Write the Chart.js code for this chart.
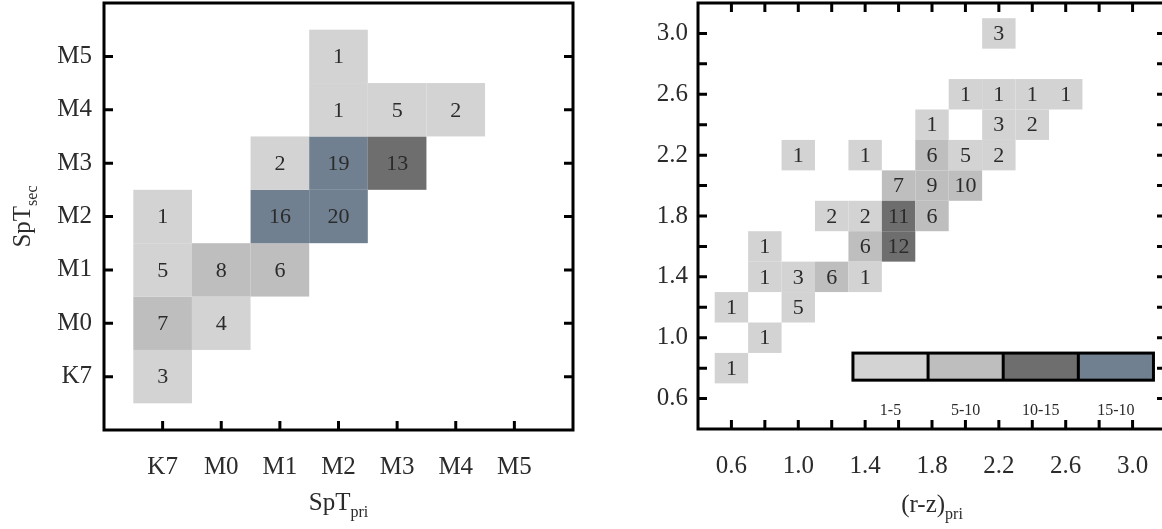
<!DOCTYPE html>
<html>
<head>
<meta charset="utf-8">
<script src="https://cdn.jsdelivr.net/npm/chart.js@4.4.0/dist/chart.umd.min.js"></script>
<style>
    html, body { margin: 0; padding: 0; background: #fff; overflow: hidden; width: 1162px; height: 529px; }
    #left { position: absolute; left: 0; top: 0; }
    #right { position: absolute; left: 580px; top: 0; }
</style>
</head>
<body>
<div id="left"><canvas id="sptChart" width="580" height="529"></canvas></div>
<div id="right"><canvas id="colorChart" width="600" height="529"></canvas></div>
<script>
// spectral types, left panel
const sptLabels = ['K7', 'M0', 'M1', 'M2', 'M3', 'M4', 'M5']
const sptPri = ['K7', 'K7', 'K7', 'K7', 'M0', 'M0', 'M1', 'M1', 'M1', 'M2', 'M2', 'M2', 'M2', 'M3', 'M3', 'M4']
const sptSec = ['K7', 'M0', 'M1', 'M2', 'M0', 'M1', 'M1', 'M2', 'M3', 'M2', 'M3', 'M4', 'M5', 'M3', 'M4', 'M4']
const sptCounts = [3, 7, 5, 1, 4, 8, 6, 16, 2, 20, 19, 1, 1, 13, 5, 2]

// r-z colours, right panel
const rzTickLabels = ['0.6', '1.0', '1.4', '1.8', '2.2', '2.6', '3.0']
const rzPri = [2.2, 2.0, 2.2, 2.4, 2.6, 1.8, 2.2, 2.4, 1.0, 1.4, 1.8, 2.0, 2.2, 1.6, 1.8, 2.0,
               1.2, 1.4, 1.6, 1.8, 0.8, 1.4, 1.6, 0.8, 1.0, 1.2, 1.4, 0.6, 1.0, 0.8, 0.6]
const rzSec = [3.0, 2.6, 2.6, 2.6, 2.6, 2.4, 2.4, 2.4, 2.2, 2.2, 2.2, 2.2, 2.2, 2.0, 2.0, 2.0,
               1.8, 1.8, 1.8, 1.8, 1.6, 1.6, 1.6, 1.4, 1.4, 1.4, 1.4, 1.2, 1.2, 1.0, 0.8]
const rzCounts = [3, 1, 1, 1, 1, 1, 3, 2, 1, 1, 6, 5, 2, 7, 9, 10,
                  2, 2, 11, 6, 1, 6, 12, 1, 3, 6, 1, 1, 5, 1, 1]

// colour bins
const legendLabels = ['1-5', '5-10', '10-15', '15-10']
const binLimits = [5, 10, 15]
const binColors = ['#d3d3d3', '#bebebe', '#6e6e6e', '#708090']

const serif = "'Liberation Serif', 'DejaVu Serif', serif"
const textColor = '#2b2b2b'

function binColor(n) {
    for (let i = 0; i < binLimits.length; i++) {
        if (n <= binLimits[i]) return binColors[i]
    }
    return binColors[binColors.length - 1]
}

function drawSubTitle(ctx, main, sub, x, y, rotate) {
    ctx.save()
    ctx.translate(x, y)
    if (rotate) ctx.rotate(-Math.PI / 2)
    ctx.fillStyle = textColor
    ctx.textBaseline = 'alphabetic'
    ctx.textAlign = 'left'
    ctx.font = '25px ' + serif
    const w1 = ctx.measureText(main).width
    ctx.font = '16px ' + serif
    const w2 = ctx.measureText(sub).width
    const x0 = -(w1 + w2) / 2
    ctx.font = '25px ' + serif
    ctx.fillText(main, x0, 0)
    ctx.font = '16px ' + serif
    ctx.fillText(sub, x0 + w1, 7)
    ctx.restore()
}

function makeHeatPlugin(cfg) {
    return {
        id: 'heat',
        beforeDatasetsDraw(chart) {
            const ctx = chart.ctx
            const xs = chart.scales.x, ys = chart.scales.y
            const h = cfg.bin / 2
            ctx.save()
            chart.data.datasets[0].data.forEach(p => {
                const l = xs.getPixelForValue(p.x - h), r = xs.getPixelForValue(p.x + h)
                const t = ys.getPixelForValue(p.y + h), b = ys.getPixelForValue(p.y - h)
                ctx.fillStyle = binColor(p.n)
                ctx.fillRect(l, t, r - l, b - t)
            })
            ctx.fillStyle = textColor
            ctx.font = cfg.numFont + 'px ' + serif
            ctx.textAlign = 'center'
            ctx.textBaseline = 'middle'
            chart.data.datasets[0].data.forEach(p => {
                ctx.fillText(String(p.n), xs.getPixelForValue(p.x), ys.getPixelForValue(p.y) + 1)
            })
            ctx.restore()
        },
        afterDraw(chart) {
            const ctx = chart.ctx
            const a = chart.chartArea
            const xs = chart.scales.x, ys = chart.scales.y
            ctx.save()
            ctx.strokeStyle = '#000'
            ctx.lineWidth = 3
            ctx.strokeRect(a.left, a.top, a.right - a.left, a.bottom - a.top)
            const tl = 9
            ctx.beginPath()
            xs.ticks.forEach(t => {
                if (!cfg.tickFilter(t.value)) return
                const px = xs.getPixelForValue(t.value)
                ctx.moveTo(px, a.bottom); ctx.lineTo(px, a.bottom - tl)
                if (cfg.topTicks) { ctx.moveTo(px, a.top); ctx.lineTo(px, a.top + tl) }
            })
            ys.ticks.forEach(t => {
                if (!cfg.tickFilter(t.value)) return
                const py = ys.getPixelForValue(t.value)
                ctx.moveTo(a.left, py); ctx.lineTo(a.left + tl, py)
                ctx.moveTo(a.right, py); ctx.lineTo(a.right - tl, py)
            })
            ctx.stroke()

            if (cfg.legend) {
                const lg = cfg.legend
                const x0 = xs.getPixelForValue(lg.x0), x1 = xs.getPixelForValue(lg.x1)
                const y0 = ys.getPixelForValue(lg.y1), y1 = ys.getPixelForValue(lg.y0)
                const seg = (x1 - x0) / legendLabels.length
                legendLabels.forEach((lab, i) => {
                    ctx.fillStyle = binColors[i]
                    ctx.fillRect(x0 + i * seg, y0, seg, y1 - y0)
                })
                ctx.strokeRect(x0, y0, x1 - x0, y1 - y0)
                ctx.beginPath()
                for (let i = 1; i < legendLabels.length; i++) {
                    ctx.moveTo(x0 + i * seg, y0); ctx.lineTo(x0 + i * seg, y1)
                }
                ctx.stroke()
                ctx.fillStyle = textColor
                ctx.font = '16px ' + serif
                ctx.textAlign = 'center'
                ctx.textBaseline = 'middle'
                const ly = ys.getPixelForValue(lg.labelY)
                legendLabels.forEach((lab, i) => {
                    ctx.fillText(lab, x0 + (i + 0.5) * seg, ly)
                })
            }
            ctx.restore()

            const cx = (a.left + a.right) / 2, cy = (a.top + a.bottom) / 2
            drawSubTitle(ctx, cfg.xTitle[0], cfg.xTitle[1], cx, cfg.xTitleY, false)
            drawSubTitle(ctx, cfg.yTitle[0], cfg.yTitle[1], cfg.yTitleX, cy, true)
        }
    }
}

function axis(min, max, step, cb, size, padding) {
    return {
        type: 'linear',
        min: min,
        max: max,
        grid: { display: false, drawTicks: false },
        border: { display: false },
        ticks: {
            stepSize: step,
            autoSkip: false,
            maxRotation: 0,
            padding: padding,
            color: textColor,
            font: { family: serif, size: 25 },
            callback: cb
        },
        afterFit: s => {
            // fixed box, no overhang from the end labels
            if (s.isHorizontal()) s.height = size
            else s.width = size
            s.paddingTop = 0
            s.paddingBottom = 0
            s.paddingLeft = 0
            s.paddingRight = 0
        }
    }
}

Chart.defaults.animation = false

const sptPoints = sptCounts.map((n, i) => ({
    x: sptLabels.indexOf(sptPri[i]),
    y: sptLabels.indexOf(sptSec[i]),
    n: n
}))
const sptLabel = v => (v >= 0 && v < sptLabels.length) ? sptLabels[v] : ''

new Chart(document.getElementById('sptChart'), {
    type: 'scatter',
    data: { datasets: [{ data: sptPoints, pointRadius: 0 }] },
    options: {
        responsive: false,
        devicePixelRatio: 1,
        layout: { padding: { top: 3, right: 7, left: 0, bottom: 0 } },
        plugins: { legend: { display: false }, tooltip: { enabled: false } },
        scales: {
            x: axis(-1, 7, 1, sptLabel, 99, 22),
            y: axis(-1, 7, 1, sptLabel, 104, 12)
        }
    },
    plugins: [makeHeatPlugin({
        bin: 1,
        numFont: 22,
        topTicks: false,
        tickFilter: v => v >= 0 && v < sptLabels.length,
        xTitle: ['SpT', 'pri'], xTitleY: 510,
        yTitle: ['SpT', 'sec'], yTitleX: 30
    })]
})

const rzPoints = rzCounts.map((n, i) => ({ x: rzPri[i], y: rzSec[i], n: n }))
const rzLabel = v => {
    const s = v.toFixed(1)
    return rzTickLabels.includes(s) ? s : ''
}

new Chart(document.getElementById('colorChart'), {
    type: 'scatter',
    data: { datasets: [{ data: rzPoints, pointRadius: 0 }] },
    options: {
        responsive: false,
        devicePixelRatio: 1,
        layout: { padding: { top: 3, right: 14, left: 0, bottom: 0 } },
        plugins: { legend: { display: false }, tooltip: { enabled: false } },
        scales: {
            x: axis(0.4, 3.2, 0.2, rzLabel, 100, 22),
            y: axis(0.4, 3.2, 0.2, rzLabel, 118, 10)
        }
    },
    plugins: [makeHeatPlugin({
        bin: 0.2,
        numFont: 22,
        topTicks: true,
        tickFilter: v => v > 0.41 && v < 3.19,
        legend: { x0: 1.327, x1: 3.125, y0: 0.721, y1: 0.899, labelY: 0.52 },
        xTitle: ['(r-z)', 'pri'], xTitleY: 512,
        yTitle: ['(r-z)', 'sec'], yTitleX: 632
    })]
})
</script>
</body>
</html>
